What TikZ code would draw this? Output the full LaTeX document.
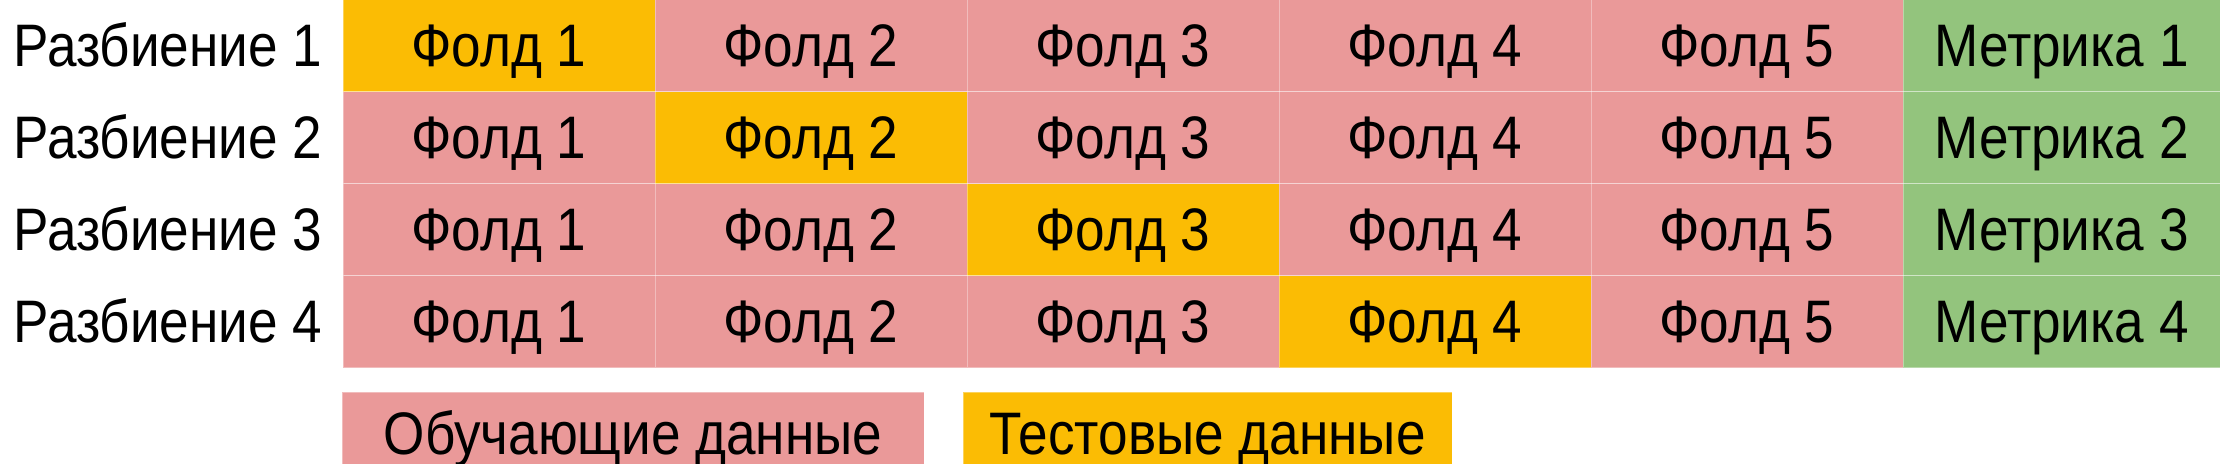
\documentclass[tikz,border=0pt]{standalone}
\usepackage{fontspec}
\setmainfont{Liberation Sans}[FakeStretch=0.885]
\usepackage{tikz}
\usepackage{xcolor}
\usetikzlibrary{positioning}

\definecolor{trainred}{HTML}{EA9999}
\definecolor{testyellow}{HTML}{FBBC04}
\definecolor{metricgreen}{HTML}{93C47D}

\tikzset{
    cell/.style={draw=white, draw opacity=0.35, line width=0.5pt,
        minimum width=156pt, minimum height=46pt, inner sep=0pt, outer sep=0pt,
        text height=20.6pt, text depth=0pt},
    train/.style={cell, fill=trainred},
    test/.style={cell, fill=testyellow},
    metric/.style={cell, fill=metricgreen, minimum width=158.5pt},
    split/.style={anchor=west, inner sep=0pt, text height=20.6pt, text depth=0pt}
}

\begin{document}
\begin{tikzpicture}[x=0.5pt, y=-0.5pt, font=\fontsize{30}{36}\selectfont]
                        \useasboundingbox (0, 0) rectangle (2220, 464);
                        \clip (0, 0) rectangle (2220, 464);

                        \node[split] (s1) at (13, 46) {Разбиение 1};
                        \node[split] (s2) at (13, 138) {Разбиение 2};
                        \node[split] (s3) at (13, 230) {Разбиение 3};
                        \node[split] (s4) at (13, 322) {Разбиение 4};

                        \node[test] (f11) at (499, 46) {Фолд 1};
                        \node[train] (f12) at (811, 46) {Фолд 2};
                        \node[train] (f13) at (1123, 46) {Фолд 3};
                        \node[train] (f14) at (1435, 46) {Фолд 4};
                        \node[train] (f15) at (1747, 46) {Фолд 5};
                        \node[metric] (m1) at (2061.5, 46) {Метрика 1};

                        \node[train] (f21) at (499, 138) {Фолд 1};
                        \node[test] (f22) at (811, 138) {Фолд 2};
                        \node[train] (f23) at (1123, 138) {Фолд 3};
                        \node[train] (f24) at (1435, 138) {Фолд 4};
                        \node[train] (f25) at (1747, 138) {Фолд 5};
                        \node[metric] (m2) at (2061.5, 138) {Метрика 2};

                        \node[train] (f31) at (499, 230) {Фолд 1};
                        \node[train] (f32) at (811, 230) {Фолд 2};
                        \node[test] (f33) at (1123, 230) {Фолд 3};
                        \node[train] (f34) at (1435, 230) {Фолд 4};
                        \node[train] (f35) at (1747, 230) {Фолд 5};
                        \node[metric] (m3) at (2061.5, 230) {Метрика 3};

                        \node[train] (f41) at (499, 322) {Фолд 1};
                        \node[train] (f42) at (811, 322) {Фолд 2};
                        \node[train] (f43) at (1123, 322) {Фолд 3};
                        \node[test] (f44) at (1435, 322) {Фолд 4};
                        \node[train] (f45) at (1747, 322) {Фолд 5};
                        \node[metric] (m4) at (2061.5, 322) {Метрика 4};

                        \node[train, minimum width=291pt, minimum height=42pt] (ltrain) at (633, 434) {Обучающие данные};
                        \node[test, minimum width=244.5pt, minimum height=42pt] (ltest) at (1207.5, 434) {Тестовые данные};
                    \end{tikzpicture}
\end{document}
